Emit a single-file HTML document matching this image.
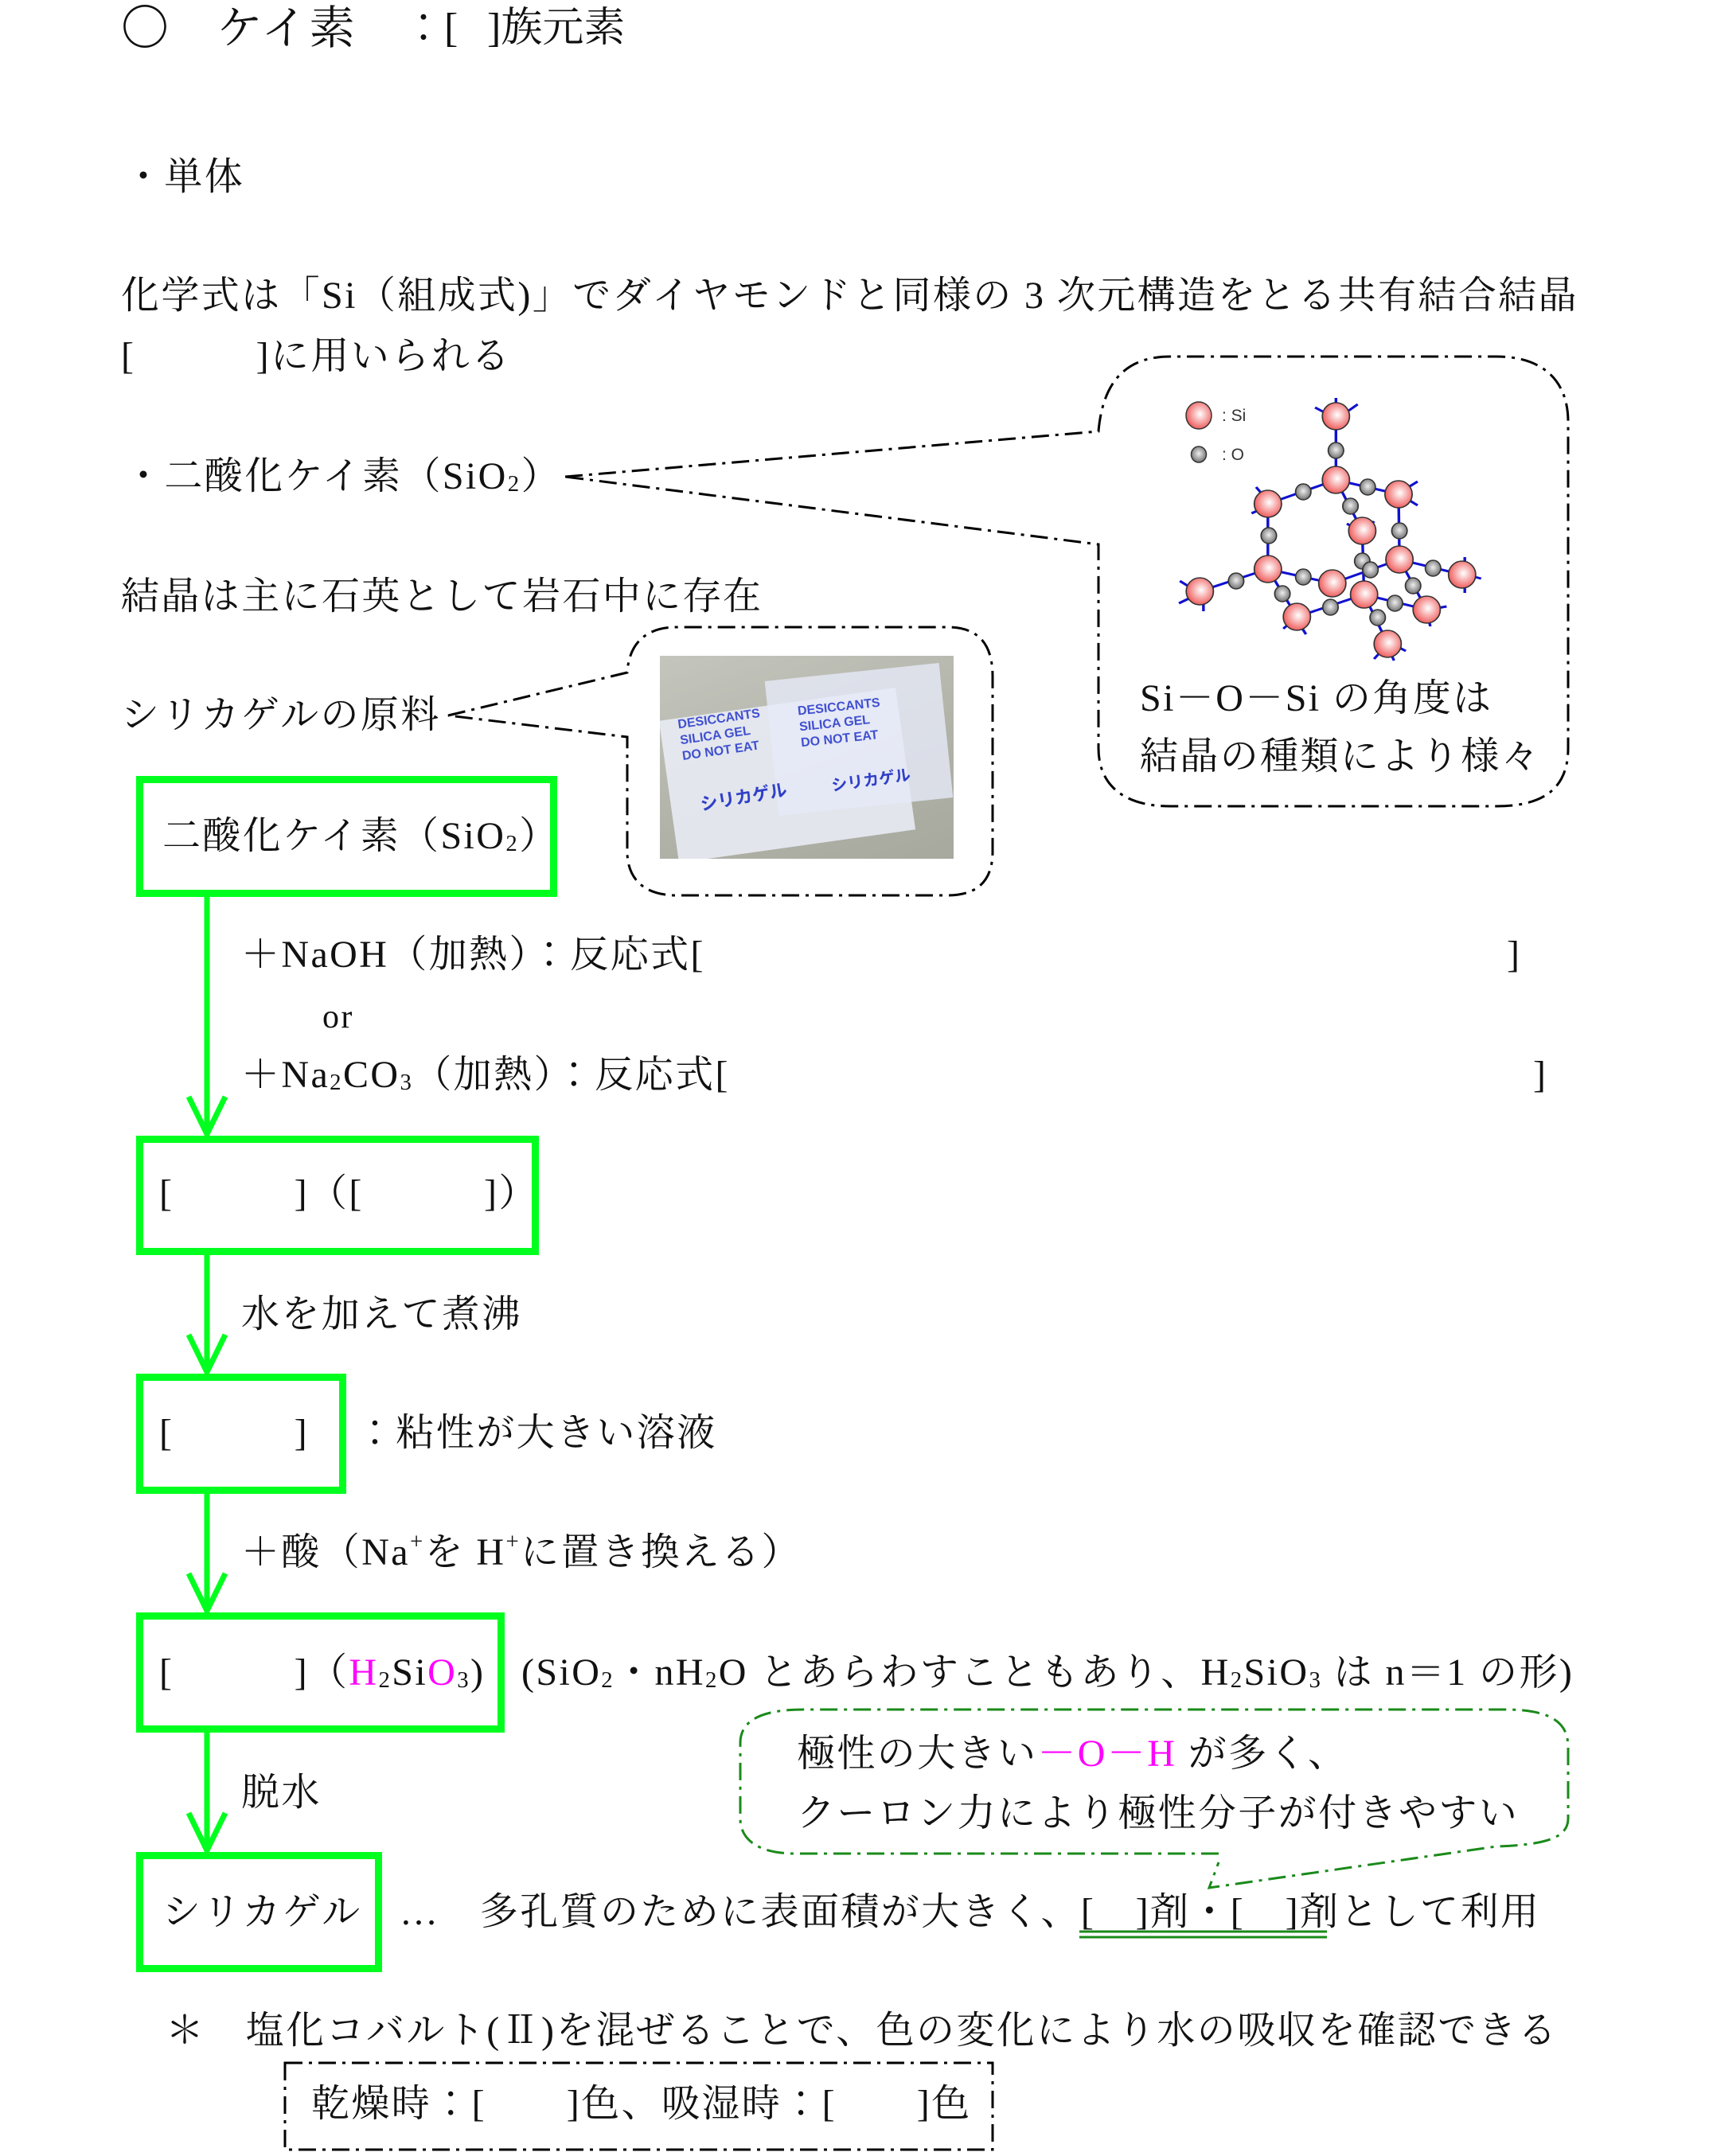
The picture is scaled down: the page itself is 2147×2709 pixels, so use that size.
<!DOCTYPE html>
<html><head><meta charset="utf-8"><style>
html,body{margin:0;padding:0;background:#fff;}
body{width:2147px;height:2709px;position:relative;overflow:hidden;font-family:"Liberation Serif","Noto Serif CJK JP","Noto Serif CJK SC",serif;color:#111;}
.t{position:absolute;font-size:48px;line-height:60px;white-space:nowrap;letter-spacing:2.4px;}
.box{position:absolute;border:9px solid #00ff1e;box-sizing:border-box;}
sub{font-size:0.6em;vertical-align:-0.1em;}
sup{font-size:0.6em;vertical-align:0.7em;line-height:0;}
.m{color:#ff00ff;}
</style></head><body>

<div class="t" style="left:152px;top:6px;font-size:60px;letter-spacing:0;">〇</div>
<div class="t" style="left:272px;top:6px;font-size:58px;letter-spacing:2px;">ケイ素</div>
<div class="t" style="left:506px;top:6px;font-size:52px;letter-spacing:0;">：[</div>
<div class="t" style="left:612px;top:6px;font-size:52px;letter-spacing:0;">]族元素</div>

<div class="t" style="left:156px;top:193px;">・単体</div>
<div class="t" style="left:152px;top:342px;">化学式は「Si（組成式)」でダイヤモンドと同様の 3 次元構造をとる共有結合結晶</div>
<div class="t" style="left:152px;top:418px;">[　　　]に用いられる</div>
<div class="t" style="left:156px;top:569px;">・二酸化ケイ素（SiO<sub>2</sub>）</div>
<div class="t" style="left:152px;top:720px;">結晶は主に石英として岩石中に存在</div>
<div class="t" style="left:152px;top:869px;">シリカゲルの原料</div>

<svg style="position:absolute;left:0;top:0" width="2147" height="2709">
 <path d="M710,599 L1380,542 C1385,485 1410,448 1470,448 L1880,448 C1940,448 1970,480 1970,530 L1970,940 C1970,990 1940,1013 1880,1013 L1470,1013 C1410,1013 1380,985 1380,940 L1380,684 Z" fill="none" stroke="#000" stroke-width="3" stroke-dasharray="22,8,4,8"/>
 <path d="M563,899 L788,845 C790,810 810,788 850,788 L1190,788 C1230,788 1247,810 1247,850 L1247,1070 C1247,1105 1230,1125 1190,1125 L850,1125 C810,1125 788,1105 788,1070 L788,926 Z" fill="none" stroke="#000" stroke-width="3" stroke-dasharray="22,8,4,8"/>
 <path d="M1531,2329 L1000,2329 C950,2329 930,2310 930,2285 L930,2190 C930,2160 960,2148 1010,2148 L1890,2148 C1950,2148 1970,2165 1970,2195 L1970,2285 C1970,2310 1940,2318 1880,2320 L1519,2372 L1531,2340" fill="none" stroke="#1a8a1a" stroke-width="3" stroke-dasharray="22,8,4,8"/>
 <rect x="358" y="2592" width="889" height="109" fill="none" stroke="#000" stroke-width="3" stroke-dasharray="22,8,4,8"/>
 <line x1="1356" y1="2427" x2="1667" y2="2427" stroke="#1a8a1a" stroke-width="3"/>
 <line x1="1356" y1="2434" x2="1667" y2="2434" stroke="#1a8a1a" stroke-width="3"/>
 <g stroke="#00ff1e" stroke-width="7" fill="none">
  <line x1="260" y1="1127" x2="260" y2="1425"/>
  <path d="M237,1378 L260,1425 L283,1378"/>
  <line x1="260" y1="1577" x2="260" y2="1724"/>
  <path d="M237,1677 L260,1724 L283,1677"/>
  <line x1="260" y1="1877" x2="260" y2="2024"/>
  <path d="M237,1977 L260,2024 L283,1977"/>
  <line x1="260" y1="2177" x2="260" y2="2325"/>
  <path d="M237,2278 L260,2325 L283,2278"/>
 </g>
 <defs>
  <radialGradient id="si" cx="0.55" cy="0.45" r="0.6"><stop offset="0" stop-color="#fff"/><stop offset="1" stop-color="#ee5050"/></radialGradient>
  <radialGradient id="o" cx="0.5" cy="0.45" r="0.6"><stop offset="0" stop-color="#eee"/><stop offset="1" stop-color="#666"/></radialGradient>
 </defs>
 <g transform="translate(-189,0) scale(1.14,1)">
 <g stroke="#1010d0" stroke-width="3">
  <path d="M1638,523L1638,603 M1638,603L1563,633 M1638,603L1707,621 M1638,603L1667,667 M1563,633L1563,715 M1707,621L1708,703 M1667,667L1669,747 M1708,703L1634,733 M1563,715L1488,743 M1563,715L1634,733 M1563,715L1595,775 M1595,775L1669,747 M1708,703L1777,722 M1669,747L1738,766 M1708,703L1738,766 M1669,747L1695,809"/>
  <path d="M1638,500L1638,512 M1615,512L1625,518 M1662,508L1652,516 M1550,612L1556,620 M1545,645L1555,640 M1728,605L1718,612 M1728,635L1718,628 M1680,655L1675,662 M1650,658L1658,663 M1466,730L1476,737 M1465,758L1476,752 M1492,768L1492,758 M1580,790L1588,782 M1605,797L1600,788 M1780,700L1780,710 M1798,727L1788,724 M1780,745L1780,735 M1760,762L1750,764 M1742,787L1740,777 M1680,828L1688,818 M1715,818L1705,812 M1702,830L1698,820"/>
 </g>
 <g stroke="#333" stroke-width="1.5">
  <g fill="url(#o)">
   <ellipse cx="1638" cy="566" rx="8.5" ry="10"/><ellipse cx="1602" cy="618" rx="8.5" ry="10"/><ellipse cx="1673" cy="612" rx="8.5" ry="10"/><ellipse cx="1654" cy="636" rx="8.5" ry="10"/><ellipse cx="1564" cy="673" rx="8.5" ry="10"/><ellipse cx="1708" cy="667" rx="8.5" ry="10"/><ellipse cx="1667" cy="705" rx="8.5" ry="10"/><ellipse cx="1676" cy="716" rx="8.5" ry="10"/><ellipse cx="1528" cy="730" rx="8.5" ry="10"/><ellipse cx="1602" cy="725" rx="8.5" ry="10"/><ellipse cx="1579" cy="746" rx="8.5" ry="10"/><ellipse cx="1632" cy="763" rx="8.5" ry="10"/><ellipse cx="1745" cy="714" rx="8.5" ry="10"/><ellipse cx="1703" cy="758" rx="8.5" ry="10"/><ellipse cx="1723" cy="736" rx="8.5" ry="10"/><ellipse cx="1684" cy="776" rx="8.5" ry="10"/>
  </g>
  <g fill="url(#si)">
   <ellipse cx="1638" cy="523" rx="15" ry="17"/><ellipse cx="1638" cy="603" rx="15" ry="17"/><ellipse cx="1563" cy="633" rx="15" ry="17"/><ellipse cx="1707" cy="621" rx="15" ry="17"/><ellipse cx="1667" cy="667" rx="15" ry="17"/><ellipse cx="1563" cy="715" rx="15" ry="17"/><ellipse cx="1708" cy="703" rx="15" ry="17"/><ellipse cx="1634" cy="733" rx="15" ry="17"/><ellipse cx="1669" cy="747" rx="15" ry="17"/><ellipse cx="1488" cy="743" rx="15" ry="17"/><ellipse cx="1595" cy="775" rx="15" ry="17"/><ellipse cx="1738" cy="766" rx="15" ry="17"/><ellipse cx="1777" cy="722" rx="15" ry="17"/><ellipse cx="1695" cy="809" rx="15" ry="17"/>
  </g>
 </g>
 </g>
 <g stroke="#333" stroke-width="1.5">
  <ellipse cx="1506" cy="522" rx="16" ry="17" fill="url(#si)"/>
  <ellipse cx="1506" cy="571" rx="9.5" ry="10" fill="url(#o)"/>
 </g>
 <text x="1535" y="529" font-family="Liberation Sans, sans-serif" font-size="21" fill="#333">:  Si</text>
 <text x="1535" y="578" font-family="Liberation Sans, sans-serif" font-size="21" fill="#333">:  O</text>
</svg>

<div style="position:absolute;left:829px;top:824px;width:369px;height:255px;background:linear-gradient(160deg,#c4c6bd,#b0b2a8 60%,#a7a99f);overflow:hidden;">
 <div style="position:absolute;left:10px;top:60px;width:300px;height:180px;background:rgba(235,238,248,0.85);transform:rotate(-8deg);"></div>
 <div style="position:absolute;left:140px;top:20px;width:220px;height:170px;background:rgba(230,234,248,0.8);transform:rotate(-6deg);"></div>
 <div style="position:absolute;left:25px;top:70px;font:bold 16px 'Liberation Sans',sans-serif;color:#4050d0;transform:rotate(-8deg);line-height:20px;">DESICCANTS<br>SILICA GEL<br>DO NOT EAT</div>
 <div style="position:absolute;left:175px;top:55px;font:bold 16px 'Liberation Sans',sans-serif;color:#4050d0;transform:rotate(-6deg);line-height:20px;">DESICCANTS<br>SILICA GEL<br>DO NOT EAT</div>
 <div style="position:absolute;left:50px;top:160px;font:bold 22px 'Noto Sans CJK JP',sans-serif;color:#3040c8;transform:rotate(-10deg);">シリカゲル</div>
 <div style="position:absolute;left:215px;top:140px;font:bold 20px 'Noto Sans CJK JP',sans-serif;color:#3040c8;transform:rotate(-8deg);">シリカゲル</div>
</div>

<div class="t" style="left:1432px;top:848px;">Si－O－Si の角度は</div>
<div class="t" style="left:1432px;top:921px;">結晶の種類により様々</div>

<div class="box" style="left:171px;top:975px;width:529px;height:152px;"></div>
<div class="t" style="left:204px;top:1021px;">二酸化ケイ素（SiO<sub>2</sub>）</div>

<div class="t" style="left:303px;top:1170px;">＋NaOH（加熱）：反応式[</div>
<div class="t" style="left:1893px;top:1170px;">]</div>
<div class="t" style="left:405px;top:1248px;font-size:42px;">or</div>
<div class="t" style="left:303px;top:1321px;">＋Na<sub>2</sub>CO<sub>3</sub>（加熱）：反応式[</div>
<div class="t" style="left:1926px;top:1321px;">]</div>

<div class="box" style="left:171px;top:1427px;width:506px;height:150px;"></div>
<div class="t" style="left:200px;top:1470px;">[　　　]（[　　　]）</div>

<div class="t" style="left:303px;top:1622px;">水を加えて煮沸</div>

<div class="box" style="left:171px;top:1726px;width:264px;height:151px;"></div>
<div class="t" style="left:200px;top:1771px;">[　　　]</div>
<div class="t" style="left:447px;top:1771px;">：粘性が大きい溶液</div>

<div class="t" style="left:303px;top:1921px;">＋酸（Na<sup>+</sup>を H<sup>+</sup>に置き換える）</div>

<div class="box" style="left:171px;top:2026px;width:463px;height:151px;"></div>
<div class="t" style="left:200px;top:2072px;">[　　　]（<span class="m">H</span><sub>2</sub>Si<span class="m">O</span><sub>3</sub>)</div>
<div class="t" style="left:655px;top:2072px;">(SiO<sub>2</sub>・nH<sub>2</sub>O とあらわすこともあり、H<sub>2</sub>SiO<sub>3</sub> は n＝1 の形)</div>

<div class="t" style="left:1001px;top:2174px;">極性の大きい<span class="m">－O－H</span> が多く、</div>
<div class="t" style="left:1001px;top:2249px;">クーロン力により極性分子が付きやすい</div>

<div class="t" style="left:303px;top:2223px;">脱水</div>

<div class="box" style="left:171px;top:2327px;width:309px;height:151px;"></div>
<div class="t" style="left:204px;top:2373px;">シリカゲル</div>
<div class="t" style="left:502px;top:2373px;">…　多孔質のために表面積が大きく、[　]剤・[　]剤として利用</div>

<div class="t" style="left:208px;top:2522px;">＊　塩化コバルト(Ⅱ)を混ぜることで、色の変化により水の吸収を確認できる</div>
<div class="t" style="left:391px;top:2614px;">乾燥時：[　　]色、吸湿時：[　　]色</div>

</body></html>
